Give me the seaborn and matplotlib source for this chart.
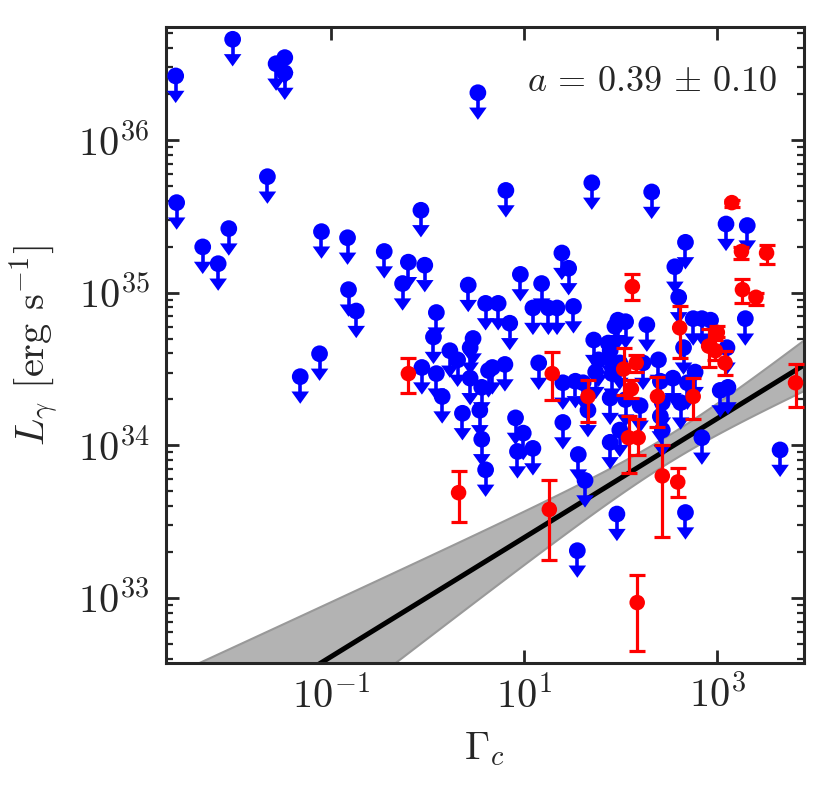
import numpy as np
import pandas as pd
import matplotlib
matplotlib.use("Agg")
import matplotlib.pyplot as plt
import matplotlib.ticker as mticker
import seaborn as sns

# ── Upper limits (blue), log10 values ──────────────────────────────────────
ul_log_gamma = [
    -2.61, -2.02, -1.57, -1.48, -1.48, 0.52, -2.60, -1.66, -2.06, -2.33,
    -1.10, -0.83, -0.45, -0.07, -2.17, -0.20, -0.03, -0.26, -0.82, -0.74,
    0.42, 0.60, 0.09, 0.06, 0.47, 0.44, 0.23, 0.31, -0.06, 0.09,
    0.63, 0.44, 0.56, 0.15, 0.36, 0.54, 0.56, 0.60, -1.12, -1.32,
    0.81, 1.70, 2.32, 2.67, 3.09, 3.31, 1.39, 2.56, 2.60, 1.46,
    0.96, 1.18, 0.73, 0.85, 1.09, 1.25, 1.34, 1.51, 2.27, 1.72,
    1.97, 2.05, 1.94, 1.87, 2.75, 2.84, 2.93, 3.29, 3.10, 2.65,
    0.67, 0.80, 1.15, 1.40, 1.53, 1.61, 1.77, 1.89, 1.74, 1.91,
    1.99, 2.23, 2.39, 2.41, 2.54, 2.69, 2.77, 3.03, 3.11, 1.66,
    1.89, 2.05, 2.20, 2.43, 2.62, 0.91, 0.99, 1.09, 0.93, 1.40,
    1.56, 1.89, 1.99, 2.41, 2.43, 2.84, 3.65, 1.63, 1.55, 1.96,
    2.67,
]
ul_log_lum = [
    36.42, 36.66, 36.50, 36.54, 36.44, 36.31, 35.59, 35.76, 35.42, 35.30,
    35.40, 35.36, 35.27, 35.54, 35.19, 35.20, 35.18, 35.06, 35.02, 34.88,
    35.05, 34.93, 34.87, 34.71, 34.70, 34.64, 34.62, 34.56, 34.51, 34.47,
    34.49, 34.44, 34.38, 34.32, 34.21, 34.23, 34.04, 33.84, 34.60, 34.45,
    35.67, 35.72, 35.66, 35.33, 35.45, 35.44, 35.26, 35.17, 34.97, 35.16,
    35.12, 35.06, 34.93, 34.80, 34.90, 34.90, 34.90, 34.91, 34.79, 34.69,
    34.82, 34.81, 34.78, 34.67, 34.83, 34.83, 34.82, 34.83, 34.64, 34.64,
    34.51, 34.53, 34.54, 34.41, 34.42, 34.41, 34.56, 34.62, 34.48, 34.47,
    34.54, 34.54, 34.56, 34.42, 34.44, 34.41, 34.48, 34.36, 34.38, 34.23,
    34.31, 34.30, 34.26, 34.28, 34.28, 34.18, 34.08, 33.98, 33.96, 34.15,
    33.94, 34.02, 34.10, 34.19, 34.10, 34.05, 33.97, 33.77, 33.31, 33.55,
    33.56,
]

# ── Detections (red): value with upper / lower end of the error bar ────────
det_log_gamma = [
    -0.20, 0.32, 1.26, 2.17, 2.43, 2.59, 2.12, 3.15, 3.25, 3.51,
    3.26, 3.40, 2.61, 2.91, 2.98, 3.00, 3.08, 3.81, 1.29, 1.66,
    2.03, 2.16, 2.11, 2.38, 2.75, 2.08, 2.18,
]
det_log_lum = [
    34.47, 33.69, 33.58, 32.97, 33.80, 33.76, 35.04, 35.59, 35.27, 35.26,
    35.02, 34.97, 34.77, 34.65, 34.62, 34.74, 34.54, 34.41, 34.47, 34.32,
    34.50, 34.54, 34.37, 34.32, 34.32, 34.05, 34.05,
]
det_log_lum_hi = [
    34.57, 33.83, 33.77, 33.15, 34.00, 33.85, 35.12, 35.61, 35.30, 35.31,
    35.09, 35.00, 34.91, 34.76, 34.69, 34.78, 34.62, 34.53, 34.61, 34.43,
    34.64, 34.59, 34.43, 34.45, 34.44, 34.19, 34.17,
]
det_log_lum_lo = [
    34.34, 33.50, 33.25, 32.65, 33.40, 33.66, 34.95, 35.56, 35.22, 35.19,
    34.93, 34.92, 34.57, 34.51, 34.56, 34.71, 34.46, 34.25, 34.30, 34.15,
    34.33, 34.48, 34.31, 34.12, 34.17, 33.82, 33.94,
]

# ── Power-law fit  L = 10^norm * Gamma^a ────────────────────────────────────
FIT_SLOPE = 0.39
FIT_SLOPE_ERR = 0.10
FIT_NORM = 33.006
FIT_NORM_ERR = 0.09
FIT_PIVOT = 2.5

X_TICKS = [1e-1, 1e1, 1e3]
XLIM = (1.95e-3, 7.9e3)
YLIM = (3.75e32, 5.5e36)

BLUE = "#0000ff"
RED = "#ff0000"

sns.set_style("ticks")
plt.rcParams.update({
    "font.family": "serif",
    "font.serif": ["cmr10"],
    "mathtext.fontset": "cm",
    "axes.formatter.use_mathtext": True,
    "axes.linewidth": 2.2,
})

fig = plt.figure(figsize=(8.31, 7.88), dpi=100)
ax = fig.add_axes([0.1998, 0.1586, 0.7677, 0.8071])
ax.set_xscale("log")
ax.set_yscale("log")

# fit line and its uncertainty band
grid = np.linspace(np.log10(XLIM[0]), np.log10(XLIM[1]), 300)
fit_log = FIT_NORM + FIT_SLOPE * grid
width = np.sqrt(FIT_NORM_ERR**2 + (FIT_SLOPE_ERR * (grid - FIT_PIVOT))**2)
ax.fill_between(10**grid, 10**(fit_log - width), 10**(fit_log + width),
                facecolor="#b3b3b3", edgecolor="#999999", lw=1.5, zorder=1)
fit_df = pd.DataFrame({"gamma": 10**grid, "lum": 10**fit_log})
sns.lineplot(data=fit_df, x="gamma", y="lum", color="black", lw=3.6,
             ax=ax, zorder=2)

# upper limits: circle + stem + arrow head
ul = pd.DataFrame({"gamma": 10**np.array(ul_log_gamma),
                   "lum": 10**np.array(ul_log_lum)})
ul["stem_end"] = ul["lum"] * 10**-0.10
ul["head"] = ul["lum"] * 10**-0.1375
ax.vlines(ul["gamma"], ul["stem_end"], ul["lum"], color=BLUE, lw=2.6,
          zorder=3)
head = [(-1, 0.7), (1, 0.7), (0, -0.7), (-1, 0.7)]
sns.scatterplot(data=ul, x="gamma", y="head", marker=head, color=BLUE,
                s=160, edgecolor="none", ax=ax, zorder=3)
sns.scatterplot(data=ul, x="gamma", y="lum", color=BLUE, s=145,
                edgecolor="none", ax=ax, zorder=4)

# detections with error bars
det = pd.DataFrame({"gamma": 10**np.array(det_log_gamma),
                    "lum": 10**np.array(det_log_lum),
                    "hi": 10**np.array(det_log_lum_hi),
                    "lo": 10**np.array(det_log_lum_lo)})
ax.errorbar(det["gamma"], det["lum"],
            yerr=[det["lum"] - det["lo"], det["hi"] - det["lum"]],
            fmt="none", ecolor=RED, elinewidth=2.3, capsize=5.5,
            capthick=2.3, zorder=5)
sns.scatterplot(data=det, x="gamma", y="lum", color=RED, s=125,
                edgecolor="none", ax=ax, zorder=6)

ax.text(0.958, 0.913, r"$a\,=\,0.39\,\pm\,0.10$", transform=ax.transAxes,
        ha="right", va="center", fontsize=26)

ax.set_xlim(*XLIM)
ax.set_ylim(*YLIM)
ax.set_xticks(X_TICKS)
ax.xaxis.set_minor_locator(mticker.NullLocator())
ax.yaxis.set_major_locator(mticker.LogLocator(base=10, numticks=10))
ax.yaxis.set_minor_locator(mticker.LogLocator(base=10, subs=np.arange(2, 10),
                                              numticks=10))

ax.tick_params(which="both", direction="in", top=True, right=True,
               labelsize=29)
ax.tick_params(which="major", length=9.5, width=2.0)
ax.tick_params(which="minor", length=5, width=1.6)
ax.tick_params(axis="x", pad=9)
ax.tick_params(axis="y", pad=12)

ax.set_xlabel(r"$\Gamma_c$", fontsize=29, labelpad=10)
ax.set_ylabel(r"$L_\gamma$ [erg s$^{-1}$]", fontsize=29, labelpad=12)
ax.grid(False)

fig.savefig("out.png", dpi=100, facecolor="white")
